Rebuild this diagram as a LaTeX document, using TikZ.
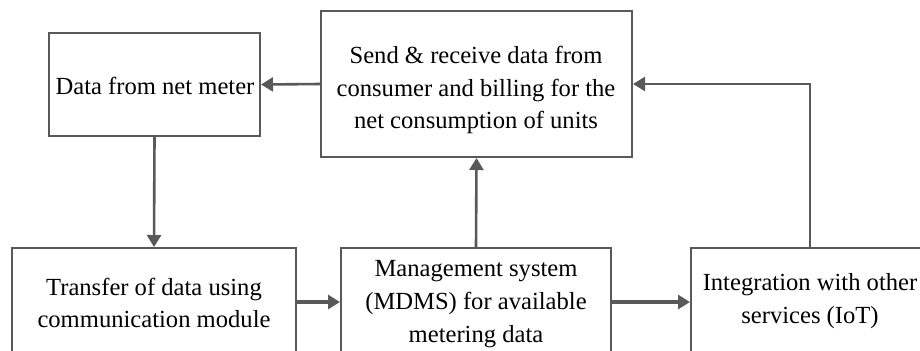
\documentclass[tikz,border=0pt]{standalone}
\usepackage{fontspec}
\setmainfont{Liberation Serif}
\usetikzlibrary{arrows.meta}
\definecolor{linegray}{HTML}{595959}
\begin{document}
\begin{tikzpicture}[x=0.5pt,y=-0.5pt,
  blk/.style={draw=linegray, line width=1pt, fill=white, inner sep=0pt},
  lbl/.style={inner sep=0pt, align=center,
    font=\fontsize{12.3pt}{16.3pt}\selectfont},
  flow/.style={draw=linegray, line width=1.3pt,
    -{Triangle[length=6pt,width=7pt]}, color=linegray},
  bold flow/.style={flow, line width=1.8pt}]
\useasboundingbox (0,0) rectangle (920,350);
\clip (0,0) rectangle (920,350);

% boxes
\node[blk, minimum width=105.5pt, minimum height=51.5pt] (meter) at (154.5,84.5) {};
\node[blk, minimum width=155.5pt, minimum height=73pt] (billing) at (476.5,84) {};
\node[blk, minimum width=142pt, minimum height=54pt] (transfer) at (154,302) {};
\node[blk, minimum width=135pt, minimum height=54pt] (mdms) at (476,302) {};
\node[blk, minimum width=119pt, minimum height=54pt] (iot) at (810,302) {};

% box texts
\node[lbl] (meterT) at (155,86) {Data from net meter};
\node[lbl] (billingT) at (476,90)
  {Send \& receive data from\\consumer and billing for the\\net consumption of units};
\node[lbl] (transferT) at (154,303) {Transfer of data using\\communication module};
\node[lbl] (mdmsT) at (476,304) {Management system\\(MDMS) for available\\metering data};
\node[lbl] (iotT) at (810,301) {Integration with other\\services (IoT)};

% connectors
\draw[flow] (billing.west) -- (meter.east);
\draw[flow] (meter.south) -- (transfer.north);
\draw[bold flow] (transfer.east) -- (mdms.west);
\draw[bold flow] (mdms.east) -- (iot.west);
\draw[flow] (mdms.north) -- (billing.south);
\draw[flow, line width=1.1pt] (iot.north) |- (billing.east);
\end{tikzpicture}
\end{document}
